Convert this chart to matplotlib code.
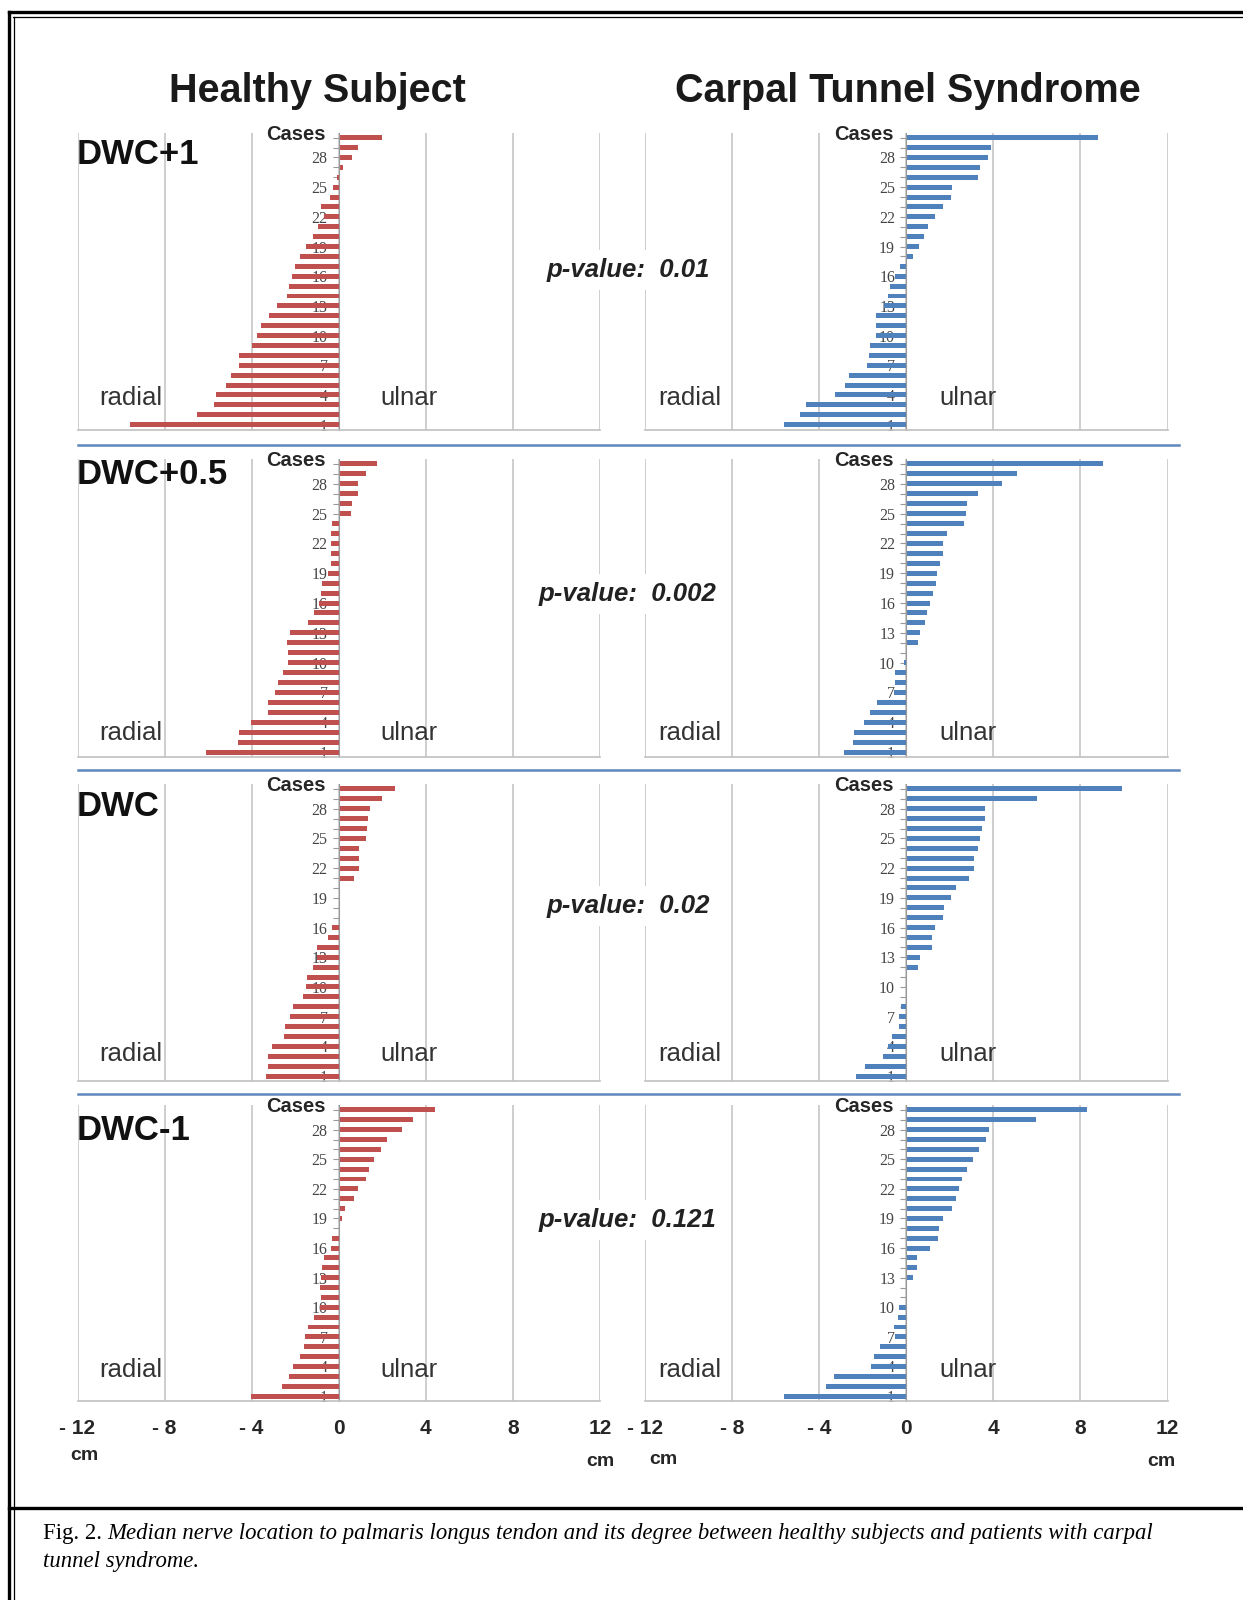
import matplotlib
matplotlib.use("Agg")
import matplotlib.pyplot as plt
from matplotlib.lines import Line2D

plt.rcParams['font.family'] = ['Liberation Sans', 'DejaVu Sans']

# case numbers 1..30
cases = list(range(1, 31))

# median nerve position vs palmaris longus tendon (cm), case 1 .. 30
# negative = radial, positive = ulnar
healthy_dwc_p1 = [-9.6, -6.5, -5.75, -5.65, -5.2, -4.95, -4.6, -4.6, -4.0, -3.75,
                  -3.55, -3.2, -2.85, -2.4, -2.3, -2.15, -2.0, -1.8, -1.5, -1.2,
                  -0.95, -0.7, -0.8, -0.4, -0.25, -0.1, 0.2, 0.6, 0.9, 2.0]
cts_dwc_p1 = [-5.6, -4.9, -4.6, -3.25, -2.8, -2.65, -1.8, -1.7, -1.65, -1.4,
              -1.4, -1.4, -1.0, -0.85, -0.75, -0.5, -0.3, 0.3, 0.6, 0.8,
              1.0, 1.3, 1.7, 2.05, 2.1, 3.3, 3.4, 3.75, 3.9, 8.8]

healthy_dwc_p05 = [-6.1, -4.65, -4.6, -4.05, -3.25, -3.25, -2.95, -2.8, -2.55, -2.35,
                   -2.35, -2.4, -2.25, -1.4, -1.15, -0.9, -0.8, -0.75, -0.5, -0.35,
                   -0.35, -0.35, -0.35, -0.3, 0.55, 0.6, 0.9, 0.9, 1.25, 1.75]
cts_dwc_p05 = [-2.85, -2.45, -2.4, -1.95, -1.65, -1.35, -0.55, -0.5, -0.5, -0.1,
               0.0, 0.55, 0.65, 0.85, 0.95, 1.1, 1.25, 1.35, 1.4, 1.55,
               1.7, 1.7, 1.85, 2.65, 2.75, 2.8, 3.3, 4.4, 5.1, 9.05]

healthy_dwc = [-3.35, -3.25, -3.25, -3.05, -2.5, -2.45, -2.25, -2.1, -1.65, -1.5,
               -1.45, -1.2, -1.0, -1.0, -0.5, -0.3, 0.0, 0.0, 0.0, 0.0,
               0.7, 0.95, 0.95, 0.95, 1.25, 1.3, 1.35, 1.45, 2.0, 2.6]
cts_dwc = [-2.3, -1.9, -1.05, -0.85, -0.65, -0.35, -0.35, -0.25, 0.0, 0.0,
           0.0, 0.55, 0.65, 1.2, 1.2, 1.3, 1.7, 1.75, 2.05, 2.3,
           2.9, 3.1, 3.1, 3.3, 3.4, 3.5, 3.6, 3.6, 6.0, 9.9]

healthy_dwc_m1 = [-4.05, -2.6, -2.3, -2.1, -1.8, -1.6, -1.55, -1.4, -1.15, -0.85,
                  -0.8, -0.85, -0.8, -0.75, -0.7, -0.35, -0.3, 0.0, 0.15, 0.3,
                  0.7, 0.9, 1.25, 1.4, 1.6, 1.95, 2.2, 2.9, 3.4, 4.4]
cts_dwc_m1 = [-5.6, -3.7, -3.3, -1.6, -1.5, -1.2, -0.5, -0.55, -0.4, -0.35,
              0.05, 0.0, 0.3, 0.5, 0.5, 1.1, 1.45, 1.5, 1.7, 2.1,
              2.3, 2.4, 2.55, 2.8, 3.05, 3.35, 3.65, 3.8, 5.95, 8.3]

levels = ["DWC+1", "DWC+0.5", "DWC", "DWC-1"]
p_values = ["0.01", "0.002", "0.02", "0.121"]
healthy = [healthy_dwc_p1, healthy_dwc_p05, healthy_dwc, healthy_dwc_m1]
cts = [cts_dwc_p1, cts_dwc_p05, cts_dwc, cts_dwc_m1]
x_ticks = [-12, -8, -4, 0, 4, 8, 12]
x_ticklabels = ["- 12", "- 8", "- 4", "0", "4", "8", "12"]

RED = '#C0504D'
BLUE = '#4F81BD'

W, H = 1243, 1600
fig = plt.figure(figsize=(W / 100, H / 100), dpi=100)
fig.patch.set_facecolor('white')


def fx(x):
    return x / W


def fy(y):
    return 1 - y / H


row_tops = [132.7, 459, 784, 1105]
row_bottoms = [429.6, 757, 1081, 1401]
col_lefts = [77.5, 645]
col_rights = [600, 1167.5]
label_y = [0.106, 0.08, 0.09, 0.105]


def draw_panel(ax, values, color, bottom_row, row):
    ax.barh(cases, values, height=0.5, color=color, zorder=2)
    ax.set_xlim(-12, 12)
    ax.set_ylim(0.5, 30.5)
    ax.set_axisbelow(True)
    ax.set_xticks(x_ticks)
    ax.grid(axis='x', color='#c6c6c6', lw=1.2)
    ax.set_facecolor('none')
    for s in ['top', 'right']:
        ax.spines[s].set_visible(False)
    ax.spines['left'].set_position(('data', 0))
    ax.spines['left'].set_color('#9a9a9a')
    ax.spines['bottom'].set_color('#c0c0c0')
    ax.spines['bottom'].set_linewidth(1.2)
    ax.set_yticks(cases)
    ax.set_yticklabels([str(c) if c % 3 == 1 else '' for c in cases],
                       family='Liberation Serif', fontsize=11.5, color='#454545')
    ax.tick_params(axis='y', length=4, color='#9a9a9a', pad=4)
    ax.tick_params(axis='x', length=0, pad=13)
    if bottom_row:
        ax.set_xticklabels(x_ticklabels, fontsize=15, fontweight='bold',
                           color='#262626')
    else:
        ax.set_xticklabels([])
    ax.text(-0.6, 30.3, 'Cases', ha='right', va='center', fontsize=14.5,
            fontweight='bold', color='#262626')
    tr = ax.get_xaxis_transform()
    ax.text(-11.0 if color == RED else -11.4, label_y[row], 'radial', transform=tr,
            ha='left', va='center', fontsize=18.5, color='#333333')
    ax.text(1.9 if color == RED else 1.5, label_y[row], 'ulnar', transform=tr,
            ha='left', va='center', fontsize=18.5, color='#333333')


for r in range(4):
    for c, (vals, col) in enumerate([(healthy[r], RED), (cts[r], BLUE)]):
        ax = fig.add_axes([fx(col_lefts[c]), fy(row_bottoms[r]),
                           fx(col_rights[c] - col_lefts[c]),
                           (row_bottoms[r] - row_tops[r]) / H])
        draw_panel(ax, vals, col, r == 3, r)

# titles
fig.text(fx(317), fy(91), 'Healthy Subject', ha='center', va='center',
         fontsize=28.5, fontweight='bold', color='#1a1a1a')
fig.text(fx(908), fy(91), 'Carpal Tunnel Syndrome', ha='center', va='center',
         fontsize=28.5, fontweight='bold', color='#1a1a1a')

# row labels and p-values
level_y = [155, 474.5, 806, 1130]
p_y = [270, 594, 906, 1220]
for r in range(4):
    fig.text(fx(76.5), fy(level_y[r]), levels[r], ha='left', va='center',
             fontsize=25, fontweight='bold', color='#111111')
    fig.text(fx(628), fy(p_y[r]), 'p-value:  ' + p_values[r], ha='center', va='center',
             fontsize=18.5, fontweight='bold', style='italic', color='#222222',
             bbox=dict(facecolor='white', edgecolor='none', pad=6), zorder=5)

# blue separators between rows
for y in [445, 769.5, 1094]:
    fig.add_artist(Line2D([fx(77.5), fx(1179)], [fy(y), fy(y)], color='#5f86bf', lw=1.8))

# cm labels
for x, y in [(84, 1456), (600, 1461), (663, 1459), (1161, 1461)]:
    fig.text(fx(x), fy(y), 'cm', ha='center', va='center', fontsize=14,
             fontweight='bold', color='#262626')

# frame
fig.add_artist(Line2D([fx(9), 1], [fy(12), fy(12)], color='black', lw=2.4))
fig.add_artist(Line2D([fx(13), 1], [fy(17), fy(17)], color='black', lw=0.9))
fig.add_artist(Line2D([fx(9), fx(9)], [fy(12), 0], color='black', lw=2.4))
fig.add_artist(Line2D([fx(13.5), fx(13.5)], [fy(17), 0], color='black', lw=0.9))
fig.add_artist(Line2D([fx(9), 1], [fy(1508), fy(1508)], color='black', lw=2.4))

# caption
cap_size = 16.4
t1 = fig.text(fx(43), fy(1534), 'Fig. 2. ', ha='left', va='center', fontsize=cap_size,
              family='Liberation Serif', color='black')
fig.canvas.draw()
bb = t1.get_window_extent(renderer=fig.canvas.get_renderer())
fig.text(bb.x1 / W, fy(1534),
         'Median nerve location to palmaris longus tendon and its degree between '
         'healthy subjects and patients with carpal',
         ha='left', va='center', fontsize=cap_size, family='Liberation Serif',
         style='italic', color='black')
fig.text(fx(43), fy(1562), 'tunnel syndrome.', ha='left', va='center',
         fontsize=cap_size, family='Liberation Serif', style='italic', color='black')

fig.savefig('out.png', dpi=100)
